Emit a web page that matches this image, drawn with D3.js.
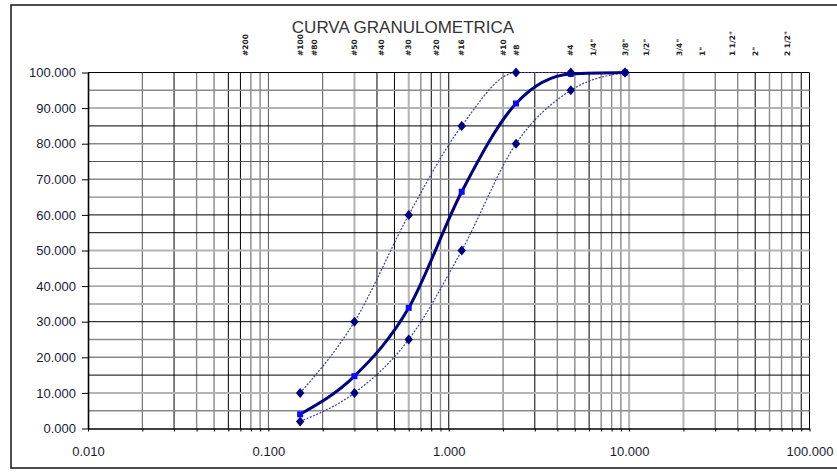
<!DOCTYPE html>
<html>
<head>
<meta charset="utf-8">
<script src="https://cdn.jsdelivr.net/npm/d3@7"></script>
<style>
  body { margin: 0; background: #fff; }
  svg { display: block; }
  .tick text { font-family: "Liberation Sans", Arial, sans-serif; font-size: 13px; fill: #1a1a33; }
</style>
</head>
<body>
<div id="chart"></div>
<script>
// sieve openings (mm) and their names shown on top
var sieveLabels = ["#200", "#100", "#80", "#50", "#40", "#30", "#20", "#16", "#10", "#8",
    "#4", "1/4\"", "3/8\"", "1/2\"", "3/4\"", "1\"", "1 1/2\"", "2\"", "2 1/2\""];
var sieveSizes = [0.075, 0.15, 0.18, 0.3, 0.425, 0.6, 0.85, 1.18, 2.0, 2.36,
    4.75, 6.3, 9.5, 12.5, 19, 25.4, 37.5, 50, 75];

// gradation data
var gradSizes = [0.15, 0.3, 0.6, 1.18, 2.36, 4.75, 9.5];
var upperLimit = [10, 30, 60, 85, 100, 100, 100];
var lowerLimit = [2, 10, 25, 50, 80, 95, 100];
var sample = [4.0, 14.7, 33.9, 66.5, 91.3, 99.6, 100];

// axis ticks
var xDecades = [0.01, 0.1, 1, 10, 100];
var yTicks = [0, 10, 20, 30, 40, 50, 60, 70, 80, 90, 100];

// grid lines and their look (k black, d dark gray, g gray, l light gray)
var xGrid = [0.02, 0.03, 0.04, 0.05, 0.06, 0.07, 0.08, 0.09,
    0.1, 0.2, 0.3, 0.4, 0.5, 0.6, 0.7, 0.8, 0.9,
    1, 2, 3, 4, 5, 6, 7, 8, 9,
    10, 20, 30, 40, 50, 60, 70, 80, 90, 100];
var xGridStyle = ["d", "k", "g", "g", "k", "k", "g", "g",
    "d", "d", "l", "k", "k", "l", "g", "k", "g",
    "k", "g", "k", "g", "g", "k", "g", "g", "g",
    "l", "l", "d", "g", "k", "g", "g", "g", "k", "k"];
var yGrid = [5, 10, 15, 20, 25, 30, 35, 40, 45, 50, 55, 60, 65, 70, 75, 80, 85, 90, 95, 100];
var yGridStyle = ["g", "l", "k", "g", "g", "k", "l", "g", "d", "l",
    "k", "k", "g", "g", "d", "g", "k", "l", "g", "k"];

var gridLook = {
    k: { stroke: "#000", width: 1 },
    d: { stroke: "#555", width: 1 },
    g: { stroke: "#8a8a8a", width: 1.4 },
    l: { stroke: "#b4b4b4", width: 2 }
};

var W = 837, H = 473;
var margin = { top: 72.5, right: 27.5, bottom: 44.5, left: 88 };

var svg = d3.select("#chart").append("svg")
    .attr("width", W)
    .attr("height", H);

// outer frame
svg.append("rect")
    .attr("x", 11).attr("y", 5)
    .attr("width", 840).attr("height", 463)
    .attr("fill", "none")
    .attr("stroke", "#222")
    .attr("stroke-width", 1.6);

var x = d3.scaleLog()
    .domain([0.01, 100])
    .range([margin.left, W - margin.right]);

var y = d3.scaleLinear()
    .domain([0, 100])
    .range([H - margin.bottom, margin.top]);

// grid
var grid = svg.append("g").attr("class", "grid");

grid.selectAll("line.vx")
    .data(xGrid)
    .enter().append("line")
    .attr("class", "vx")
    .attr("x1", function (d) { return x(d); })
    .attr("x2", function (d) { return x(d); })
    .attr("y1", y(0))
    .attr("y2", y(100))
    .attr("stroke", function (d, i) { return gridLook[xGridStyle[i]].stroke; })
    .attr("stroke-width", function (d, i) { return gridLook[xGridStyle[i]].width; });

grid.selectAll("line.hy")
    .data(yGrid)
    .enter().append("line")
    .attr("class", "hy")
    .attr("x1", x(0.01))
    .attr("x2", x(100))
    .attr("y1", function (d) { return y(d); })
    .attr("y2", function (d) { return y(d); })
    .attr("stroke", function (d, i) { return gridLook[yGridStyle[i]].stroke; })
    .attr("stroke-width", function (d, i) { return gridLook[yGridStyle[i]].width; });

// axes
var allXTicks = [0.01].concat(xGrid);

var xAxis = d3.axisBottom(x)
    .tickValues(allXTicks)
    .tickSize(3)
    .tickSizeOuter(0)
    .tickPadding(15)
    .tickFormat(function (d) {
        return xDecades.some(function (v) { return Math.abs(v - d) < 1e-9; }) ? d3.format(".3f")(d) : "";
    });

svg.append("g")
    .attr("transform", "translate(0," + y(0) + ")")
    .call(xAxis)
    .call(function (g) {
        g.select(".domain").attr("stroke", "#000").attr("stroke-width", 1.6);
        g.selectAll(".tick line").attr("stroke", "#000");
    });

var yAxis = d3.axisLeft(y)
    .tickValues(yTicks)
    .tickSize(6)
    .tickSizeOuter(0)
    .tickPadding(6)
    .tickFormat(d3.format(".3f"));

svg.append("g")
    .attr("transform", "translate(" + x(0.01) + ",0)")
    .call(yAxis)
    .call(function (g) {
        g.select(".domain").attr("stroke", "#000").attr("stroke-width", 1.6);
        g.selectAll(".tick line").attr("stroke", "#000");
    });

// title
svg.append("text")
    .attr("x", 403)
    .attr("y", 33)
    .attr("text-anchor", "middle")
    .attr("font-family", "Liberation Sans, Arial, sans-serif")
    .attr("font-size", "17px")
    .attr("fill", "#333")
    .text("CURVA GRANULOMETRICA");

// sieve names on top
svg.append("g")
    .selectAll("text")
    .data(sieveLabels)
    .enter().append("text")
    .attr("transform", function (d, i) {
        return "translate(" + x(sieveSizes[i]) + ",56) rotate(-90)";
    })
    .attr("dy", "0.35em")
    .attr("text-anchor", "start")
    .attr("font-family", "DejaVu Sans, sans-serif")
    .attr("font-size", "7.5px")
    .attr("font-weight", "bold")
    .attr("fill", "#222")
    .text(function (d) { return d; });

// curves
var line = d3.line()
    .x(function (d) { return x(d[0]); })
    .y(function (d) { return y(d[1]); })
    .curve(d3.curveMonotoneX);

var upperPts = gradSizes.map(function (s, i) { return [s, upperLimit[i]]; });
var lowerPts = gradSizes.map(function (s, i) { return [s, lowerLimit[i]]; });
var samplePts = gradSizes.map(function (s, i) { return [s, sample[i]]; });

[upperPts, lowerPts].forEach(function (pts) {
    svg.append("path")
        .datum(pts)
        .attr("d", line)
        .attr("fill", "none")
        .attr("stroke", "#3a3aa8")
        .attr("stroke-width", 1.2)
        .attr("stroke-dasharray", "2,1.5");
});

svg.append("path")
    .datum(samplePts)
    .attr("d", line)
    .attr("fill", "none")
    .attr("stroke", "#000080")
    .attr("stroke-width", 3);

svg.append("g")
    .selectAll("rect")
    .data(samplePts)
    .enter().append("rect")
    .attr("x", function (d) { return x(d[0]) - 3; })
    .attr("y", function (d) { return y(d[1]) - 3; })
    .attr("width", 6)
    .attr("height", 6)
    .attr("fill", "#0a0aff");

var diamond = "M0,-5L4.2,0L0,5L-4.2,0Z";

svg.append("g")
    .selectAll("path")
    .data(upperPts.concat(lowerPts))
    .enter().append("path")
    .attr("d", diamond)
    .attr("transform", function (d) { return "translate(" + x(d[0]) + "," + y(d[1]) + ")"; })
    .attr("fill", "#000080");
</script>
</body>
</html>
